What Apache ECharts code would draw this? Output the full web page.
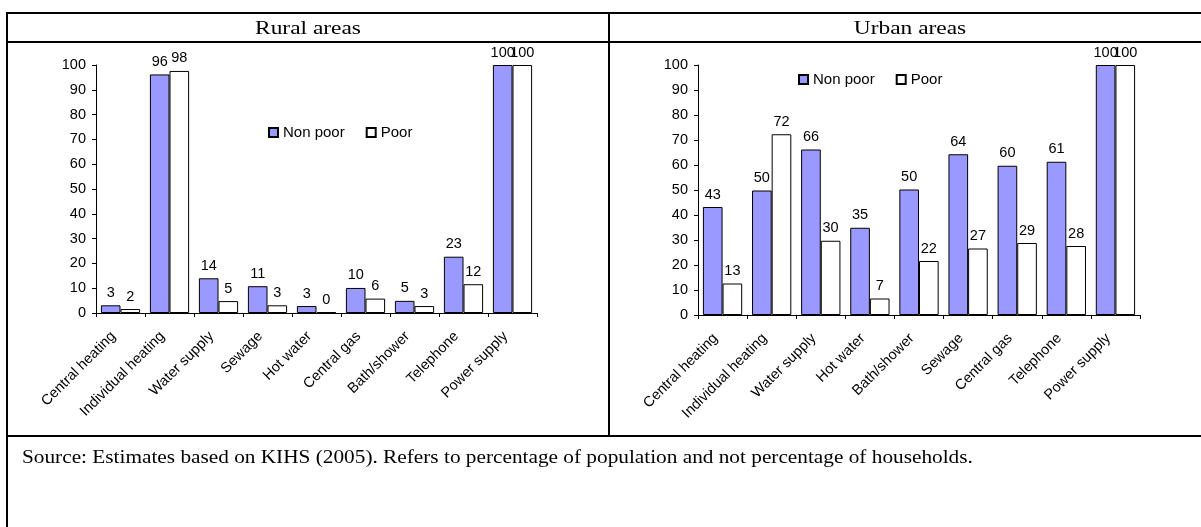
<!DOCTYPE html>
<html><head><meta charset="utf-8">
<script src="https://cdn.jsdelivr.net/npm/echarts@6/dist/echarts.min.js"></script>
<style>html,body{margin:0;padding:0;background:#fff}#c{width:1201px;height:527px}</style>
</head><body><div id="c"></div>
<script>
const ruralCategories = ['Central heating','Individual heating','Water supply','Sewage','Hot water','Central gas','Bath/shower','Telephone','Power supply'];
const ruralNonPoor = [3.1, 96.2, 14.0, 10.8, 2.8, 10.1, 4.9, 22.7, 100];
const ruralPoor    = [1.6, 97.6, 4.8, 3.1, 0.3, 5.8, 2.8, 11.6, 100];
const urbanCategories = ['Central heating','Individual heating','Water supply','Hot water','Bath/shower','Sewage','Central gas','Telephone','Power supply'];
const urbanNonPoor = [43.2, 49.8, 66.2, 34.9, 50.2, 64.3, 59.7, 61.3, 100];
const urbanPoor    = [12.6, 72.3, 29.7, 6.6, 21.6, 26.6, 28.8, 27.6, 100];
const yTicks = [0, 100, 10];
const seriesNames = ['Non poor', 'Poor'];
const panelTitles = ['Rural areas', 'Urban areas'];
const sourceNote = 'Source: Estimates based on KIHS (2005). Refers to percentage of population and not percentage of households.';

const SANS = '"Liberation Sans", Arial, sans-serif';
const SERIF = '"Liberation Serif", "Times New Roman", serif';
const chart = echarts.init(document.getElementById('c'), null, {renderer: 'canvas'});

function xAxis(idx, cats) {
  return {
    type: 'category', gridIndex: idx, data: cats,
    axisLine: {lineStyle: {color: '#000', width: 1}},
    axisTick: {show: true, length: 4, lineStyle: {color: '#000'}},
    axisLabel: {interval: 0, rotate: 45, fontSize: 14.5, fontFamily: SANS, color: '#000', margin: 14, padding: [0, 10, 0, 0]}
  };
}
function yAxis(idx) {
  return {
    type: 'value', gridIndex: idx, min: yTicks[0], max: yTicks[1], interval: yTicks[2],
    axisLine: {show: true, lineStyle: {color: '#000', width: 1}},
    axisTick: {show: true, length: 4, lineStyle: {color: '#000'}},
    splitLine: {show: false},
    axisLabel: {fontSize: 14.5, fontFamily: SANS, color: '#000', margin: 10}
  };
}
function barSeries(name, data, idx, color) {
  return {
    name: name, type: 'bar', xAxisIndex: idx, yAxisIndex: idx, data: data,
    barGap: '0%', barCategoryGap: '20%',
    itemStyle: {color: color, borderColor: '#000', borderWidth: 1},
    label: {show: true, position: 'top', distance: 5, fontSize: 14.5, fontFamily: SANS, color: '#000',
            formatter: p => Math.round(p.value)},
    animation: false
  };
}
const legendCommon = {
  itemWidth: 9, itemHeight: 9, itemGap: 21, icon: 'rect', padding: 0,
  textStyle: {fontSize: 15, fontFamily: SANS, color: '#000'},
  selectedMode: false
};

const L = (x1,y1,x2,y2) => ({type:'line', shape:{x1,y1,x2,y2}, style:{stroke:'#000', lineWidth:2}, silent:true});
const T = (text, x, y, size, sx, align) => ({type:'text', x: x, y: y, scaleX: sx, scaleY: 1, silent: true,
  style:{text: text, font: size + 'px ' + SERIF, fill:'#000', textAlign: align, textVerticalAlign:'middle', x: 0, y: 0}});

chart.setOption({
  animation: false,
  backgroundColor: '#fff',
  grid: [
    {left: 96, top: 65, width: 441, height: 248},
    {left: 698, top: 65, width: 442, height: 250}
  ],
  xAxis: [xAxis(0, ruralCategories), xAxis(1, urbanCategories)],
  yAxis: [yAxis(0), yAxis(1)],
  legend: [
    Object.assign({left: 268, top: 125, data: seriesNames}, legendCommon),
    Object.assign({left: 798, top: 72, data: seriesNames}, legendCommon)
  ],
  series: [
    barSeries(seriesNames[0], ruralNonPoor, 0, '#9999FF'),
    barSeries(seriesNames[1], ruralPoor, 0, '#FFFFFF'),
    barSeries(seriesNames[0], urbanNonPoor, 1, '#9999FF'),
    barSeries(seriesNames[1], urbanPoor, 1, '#FFFFFF')
  ],
  graphic: [
    L(6,13,1201,13), L(6,42,1201,42), L(6,436,1201,436),
    L(7,12,7,527), L(609,12,609,436),
    T(panelTitles[0], 308, 28.5, 19.5, 1.2, 'center'),
    T(panelTitles[1], 910, 28.5, 19.5, 1.2, 'center'),
    T(sourceNote, 22, 458, 19, 1.12, 'left')
  ]
});
</script></body></html>
